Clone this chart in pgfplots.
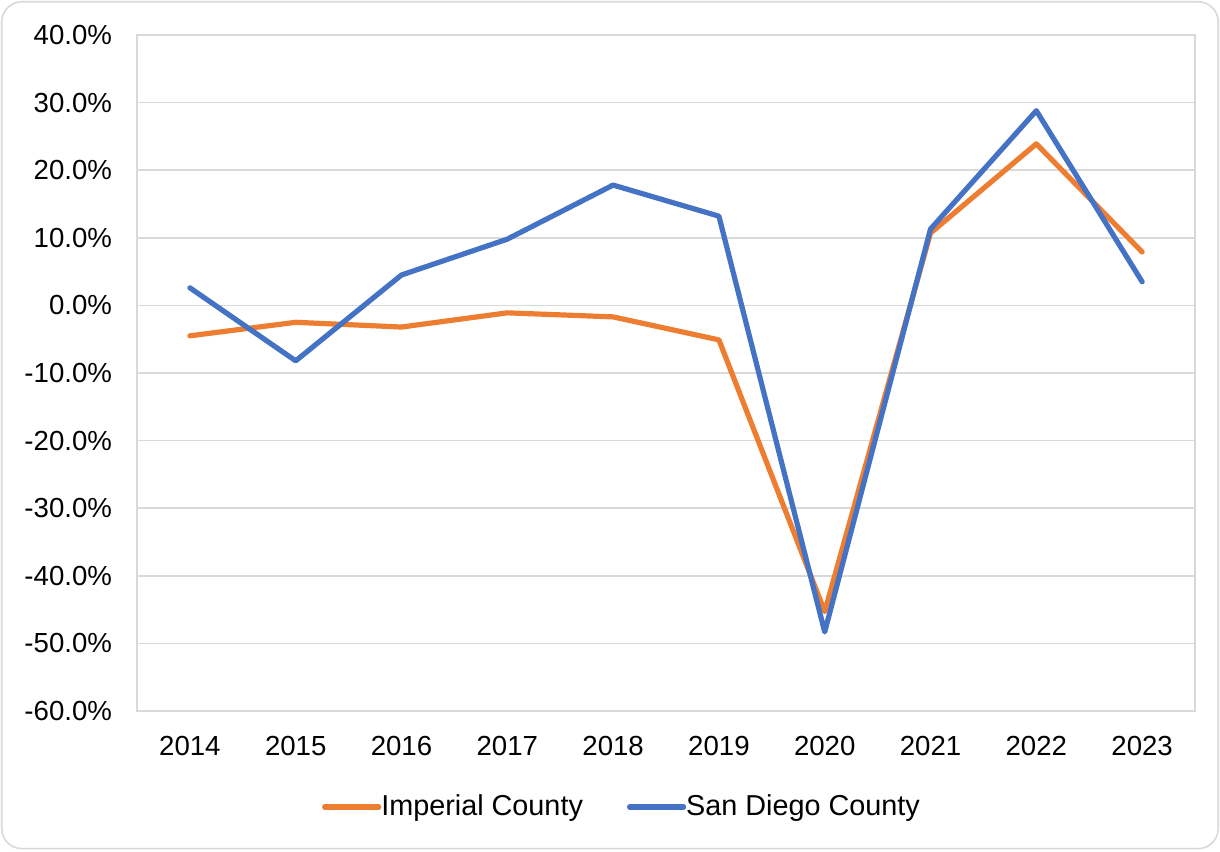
\documentclass[border=0pt]{standalone}
\usepackage{pgfplots}
\pgfplotsset{compat=1.18}
\usepackage{fontspec}
\setmainfont{Liberation Sans}
\definecolor{imp}{HTML}{ED7D31}
\definecolor{sd}{HTML}{4472C4}
\definecolor{gridc}{HTML}{D9D9D9}
\begin{document}
\begin{tikzpicture}[x=1pt,y=1pt]
\path[use as bounding box] (-68.5,-70) rectangle (541.5,355.5);
\draw[gridc, line width=0.8pt, rounded corners=10pt] (-67.6,-68.8) rectangle (540.6,354.6);
\begin{axis}[
  at={(0,0)}, anchor=south west,
  width=529pt, height=338pt, scale only axis,
  xmin=-0.5, xmax=9.5, ymin=-60, ymax=40,
  xtick={0,...,9},
  xticklabels={2014,2015,2016,2017,2018,2019,2020,2021,2022,2023},
  ytick={-60,-50,...,40},
  yticklabel={\pgfmathprintnumber[fixed,fixed zerofill,precision=1]{\tick}\%},
  /pgf/number format/assume math mode=true,
  ticklabel style={font=\fontsize{13.8}{16}\selectfont, text=black},
  yticklabel style={xshift=-9pt},
  xticklabel style={yshift=-9pt},
  major tick length=0pt,
  ymajorgrids,
  grid style={gridc, line width=0.8pt},
  axis line style={gridc, line width=0.8pt},
  legend style={at={(243pt,-48pt)}, anchor=center, draw=none, fill=none,
    legend columns=2, font=\fontsize{14.4}{16}\selectfont,
    /tikz/every even column/.append style={column sep=20pt},
    /tikz/every odd column/.append style={column sep=-2pt},
    inner sep=0pt},
  legend image code/.code={\draw[#1, line width=2.6pt, line cap=round] (0pt,0pt) -- (27pt,0pt);},
  legend cell align=left,
]
\addplot[imp, line width=2.6pt, line join=round, line cap=round] coordinates {
(0,-4.5) (1,-2.5) (2,-3.2) (3,-1.1) (4,-1.7) (5,-5.1) (6,-45.3) (7,10.7) (8,23.9) (9,7.9)};
\addlegendentry{Imperial County}
\addplot[sd, line width=2.6pt, line join=round, line cap=round] coordinates {
(0,2.6) (1,-8.2) (2,4.5) (3,9.8) (4,17.8) (5,13.2) (6,-48.3) (7,11.3) (8,28.8) (9,3.5)};
\addlegendentry{San Diego County}
\end{axis}
\end{tikzpicture}
\end{document}
